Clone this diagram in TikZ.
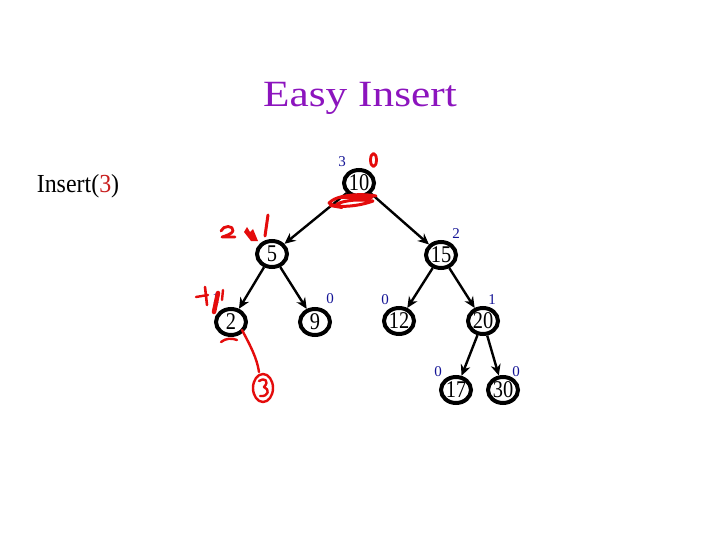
\documentclass[tikz,border=0pt]{standalone}
\usepackage{fontspec}
\setmainfont{Liberation Serif}
\usetikzlibrary{arrows.meta,shapes.geometric}
\definecolor{titlepurple}{RGB}{140,20,190}
\definecolor{balblue}{RGB}{20,20,150}
\definecolor{inkred}{RGB}{228,12,12}
\definecolor{argred}{RGB}{200,30,30}
\begin{document}
\begin{tikzpicture}[x=1pt,y=-1pt,
  tnode/.style={ellipse,draw=black,line width=4pt,minimum width=30pt,minimum height=26pt,inner sep=0pt,font=\fontsize{24}{24}\selectfont},
  edge/.style={line width=2.4pt,-{Stealth[length=11pt,width=10pt]}},
  bal/.style={text=balblue,font=\fontsize{15}{15}\selectfont,inner sep=0pt},
  ink/.style={draw=inkred,line width=2.8pt,line cap=round,line join=round}]
\useasboundingbox[fill=white] (0,0) rectangle (720,540);

% title and caption
\node[anchor=base,text=titlepurple,font=\fontsize{37}{37}\selectfont,inner sep=0pt] (title) at (360,107) {\scalebox{1.17}[1]{Easy Insert}};
\node[anchor=base,font=\fontsize{26}{26}\selectfont,inner sep=0pt] (cmd) at (78,193) {\scalebox{0.92}[1]{Insert(\textcolor{argred}{3})}};

% tree nodes
\node[tnode] (n10) at (359,183) {\scalebox{0.85}[1]{10}};
\node[tnode] (n5)  at (272,254) {\scalebox{0.85}[1]{5}};
\node[tnode] (n15) at (441,255) {\scalebox{0.85}[1]{15}};
\node[tnode] (n2)  at (231,322) {\scalebox{0.85}[1]{2}};
\node[tnode] (n9)  at (315,322) {\scalebox{0.85}[1]{9}};
\node[tnode] (n12) at (399,321) {\scalebox{0.85}[1]{12}};
\node[tnode] (n20) at (483,321) {\scalebox{0.85}[1]{20}};
\node[tnode] (n17) at (456,390) {\scalebox{0.85}[1]{17}};
\node[tnode] (n30) at (503,390) {\scalebox{0.85}[1]{30}};

% edges
\draw[edge] (n10) -- (n5);
\draw[edge] (n10) -- (n15);
\draw[edge] (n5) -- (n2);
\draw[edge] (n5) -- (n9);
\draw[edge] (n15) -- (n12);
\draw[edge] (n15) -- (n20);
\draw[edge] (n20) -- (n17);
\draw[edge] (n20) -- (n30);

% balance labels
\node[bal] (b10) at (342,162) {3};
\node[bal] (b15) at (456,234) {2};
\node[bal] (b9)  at (330,299) {0};
\node[bal] (b12) at (385,300) {0};
\node[bal] (b20) at (492,300) {1};
\node[bal] (b17) at (438,372) {0};
\node[bal] (b30) at (516,372) {0};
\node[bal] (b2)  at (216,299) {1};

% red handwritten annotations
\draw[ink] (373.5,160) ellipse [x radius=3, y radius=6.5];
\draw[ink,line width=3pt] (376,196) .. controls (360,193) and (336,195) .. (329,203)
  .. controls (336,209) and (360,206) .. (373,201)
  .. controls (360,199) and (345,200) .. (337,204);
\draw[ink,line width=3pt] (340,198) -- (372,198);
\draw[ink,line width=2pt] (330,206) -- (342,208);
\draw[ink,line width=3pt] (268,215) -- (265,236);
\draw[ink] (221,231) .. controls (223,225) and (234,225) .. (233,231)
  .. controls (232,234) and (225,236) .. (222,237) -- (235,237);
\fill[inkred] (244,232) -- (247,227) -- (250,232) -- (253,229) -- (258,241) -- (251,241) -- cycle;
\draw[ink,line width=2.4pt] (196,297) -- (208,295);
\draw[ink,line width=2.6pt] (205,287) -- (207,305);
\draw[ink,line width=4.5pt] (218,293) -- (214,312);
\draw[ink,line width=2.4pt] (223,290) -- (222,300);
\draw[ink,line width=2.4pt] (221,342) .. controls (226,338) and (232,338) .. (237,340);
\draw[ink,line width=2.4pt] (242,330) .. controls (250,345) and (257,358) .. (259,372);
\draw[ink,line width=2.4pt] (263,388) ellipse [x radius=10, y radius=14];
\draw[ink,line width=2.4pt] (259,381) .. controls (264,377) and (270,381) .. (264,387)
  .. controls (270,389) and (269,397) .. (260,396);
\end{tikzpicture}
\end{document}
